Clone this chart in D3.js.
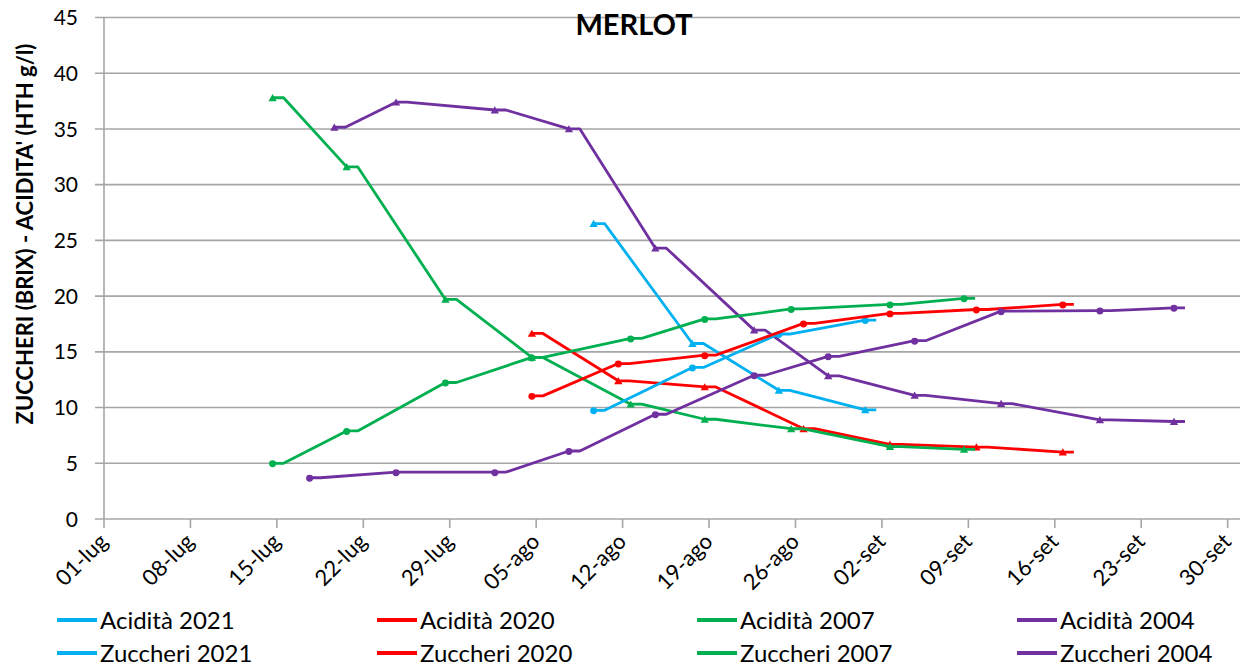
<!DOCTYPE html>
<html>
<head>
<meta charset="utf-8">
<script src="https://cdn.jsdelivr.net/npm/d3@7"></script>
<style>
	body { margin: 0; background: #fff; }
	text { font-family: Lato, 'Open Sans', sans-serif; fill: #000; }
</style>
</head>
<body>
<div id="viz"></div>
<script>
// sampling dates (all shown on the same season axis)
const DATES_2021 = ['2021-08-10', '2021-08-18', '2021-08-25', '2021-09-01'];
const DATES_2020 = ['2021-08-05', '2021-08-12', '2021-08-19', '2021-08-27', '2021-09-03', '2021-09-10', '2021-09-17'];
const DATES_2007 = ['2021-07-15', '2021-07-21', '2021-07-29', '2021-08-05', '2021-08-13', '2021-08-19', '2021-08-26', '2021-09-03', '2021-09-09'];
const DATES_2004_ACID = ['2021-07-20', '2021-07-25', '2021-08-02', '2021-08-08', '2021-08-15', '2021-08-23', '2021-08-29', '2021-09-05', '2021-09-12', '2021-09-20', '2021-09-26'];
const DATES_2004_SUGAR = ['2021-07-18', '2021-07-25', '2021-08-02', '2021-08-08', '2021-08-15', '2021-08-23', '2021-08-29', '2021-09-05', '2021-09-12', '2021-09-20', '2021-09-26'];

const ACID_2021 = [26.5, 15.75, 11.55, 9.8];
const SUGAR_2021 = [9.75, 13.6, 16.6, 17.85];
const ACID_2020 = [16.65, 12.4, 11.85, 8.1, 6.7, 6.45, 6.0];
const SUGAR_2020 = [11.05, 13.95, 14.7, 17.55, 18.45, 18.8, 19.25];
const ACID_2007 = [37.8, 31.6, 19.7, 14.5, 10.3, 8.95, 8.1, 6.5, 6.25];
const SUGAR_2007 = [5.0, 7.9, 12.25, 14.5, 16.2, 17.95, 18.85, 19.25, 19.8];
const ACID_2004 = [35.15, 37.4, 36.7, 35.0, 24.3, 16.95, 12.85, 11.1, 10.35, 8.9, 8.75];
const SUGAR_2004 = [3.7, 4.2, 4.2, 6.1, 9.4, 12.9, 14.6, 16.0, 18.65, 18.7, 18.95];

const Y_TICKS = [0, 5, 10, 15, 20, 25, 30, 35, 40, 45];
const MONTHS = { 6: 'lug', 7: 'ago', 8: 'set' };

const BLUE = '#00b0f0', RED = '#ff0000', GREEN = '#00b050', PURPLE = '#7030a0';

const series = [
	{ name: 'Acidità 2021', dates: DATES_2021, values: ACID_2021, color: BLUE, shape: 'tri' },
	{ name: 'Acidità 2020', dates: DATES_2020, values: ACID_2020, color: RED, shape: 'tri' },
	{ name: 'Acidità 2007', dates: DATES_2007, values: ACID_2007, color: GREEN, shape: 'tri' },
	{ name: 'Acidità 2004', dates: DATES_2004_ACID, values: ACID_2004, color: PURPLE, shape: 'tri' },
	{ name: 'Zuccheri 2021', dates: DATES_2021, values: SUGAR_2021, color: BLUE, shape: 'dot' },
	{ name: 'Zuccheri 2020', dates: DATES_2020, values: SUGAR_2020, color: RED, shape: 'dot' },
	{ name: 'Zuccheri 2007', dates: DATES_2007, values: SUGAR_2007, color: GREEN, shape: 'dot' },
	{ name: 'Zuccheri 2004', dates: DATES_2004_SUGAR, values: SUGAR_2004, color: PURPLE, shape: 'dot' }
];

const WIDTH = 1250, HEIGHT = 670;
const LEFT = 104, RIGHT = 1240, TOP = 17.5, BOTTOM = 519;
const parse = d3.utcParse('%Y-%m-%d');
const START = parse('2021-07-01'), END = parse('2021-10-01');

const svg = d3.select('#viz').append('svg')
	.attr('width', WIDTH)
	.attr('height', HEIGHT);

const xScale = d3.scaleUtc()
	.domain([START, END])
	.range([LEFT, RIGHT]);

const yScale = d3.scaleLinear()
	.domain([0, 45])
	.range([BOTTOM, TOP]);

// weekly ticks counted from 01-lug
const xTicks = d3.range(0, 92, 7).map((n) => d3.utcDay.offset(START, n));
const fmtTick = (d) => d3.utcFormat('%d')(d) + '-' + MONTHS[d.getUTCMonth()];

// gridlines
svg.append('g')
	.attr('class', 'grid')
	.selectAll('line')
	.data(Y_TICKS)
	.enter()
	.append('line')
	.attr('x1', LEFT - 9)
	.attr('x2', RIGHT)
	.attr('y1', (d) => yScale(d))
	.attr('y2', (d) => yScale(d))
	.attr('stroke', '#a6a6a6')
	.attr('stroke-width', 1.6);

// y axis
svg.append('line')
	.attr('x1', LEFT).attr('x2', LEFT)
	.attr('y1', TOP).attr('y2', BOTTOM)
	.attr('stroke', '#a6a6a6')
	.attr('stroke-width', 1.6);

svg.append('g')
	.selectAll('text')
	.data(Y_TICKS)
	.enter()
	.append('text')
	.attr('x', 78)
	.attr('y', (d) => yScale(d))
	.attr('dy', '0.36em')
	.attr('text-anchor', 'end')
	.style('font-size', '21px')
	.text((d) => d);

// x axis ticks
svg.append('g')
	.selectAll('line')
	.data(xTicks)
	.enter()
	.append('line')
	.attr('x1', (d) => xScale(d))
	.attr('x2', (d) => xScale(d))
	.attr('y1', BOTTOM)
	.attr('y2', BOTTOM + 9)
	.attr('stroke', '#a6a6a6')
	.attr('stroke-width', 1.6);

svg.append('g')
	.selectAll('text')
	.data(xTicks)
	.enter()
	.append('text')
	.attr('transform', (d) => 'translate(' + (xScale(d) + 5) + ',' + (BOTTOM + 24) + ') rotate(-45)')
	.attr('text-anchor', 'end')
	.style('font-size', '22px')
	.text(fmtTick);

// axis title + chart title
svg.append('text')
	.attr('transform', 'translate(33,' + 234 + ') rotate(-90)')
	.attr('text-anchor', 'middle')
	.style('font-size', '22px')
	.style('font-weight', 'bold')
	.text("ZUCCHERI (BRIX) - ACIDITA' (HTH g/l)");

svg.append('text')
	.attr('x', 634)
	.attr('y', 35)
	.attr('text-anchor', 'middle')
	.style('font-size', '29px')
	.style('font-weight', 'bold')
	.text('MERLOT');

// markers sit slightly left of the date, line has a short flat step after each one
const MARK_SHIFT = -4.3, STEP = 11;
const markX = (d) => xScale(parse(d)) + MARK_SHIFT;

const generateLine = d3.line()
	.x((p) => p[0])
	.y((p) => p[1]);

const stepPoints = (s) => {
	const pts = [];
	s.dates.forEach((d, i) => {
		const x = markX(d), y = yScale(s.values[i]);
		pts.push([x, y]);
		pts.push([x + STEP, y]);
	});
	return pts;
};

const triangle = d3.symbol().type(d3.symbolTriangle).size(30);
const circle = d3.symbol().type(d3.symbolCircle).size(38);

const seriesGroup = svg.append('g')
	.attr('class', 'series')
	.selectAll('g')
	.data(series)
	.enter()
	.append('g');

seriesGroup.append('path')
	.attr('fill', 'none')
	.attr('stroke', (s) => s.color)
	.attr('stroke-width', 2.8)
	.attr('stroke-linejoin', 'round')
	.attr('d', (s) => generateLine(stepPoints(s)));

seriesGroup.selectAll('.point')
	.data((s) => s.dates.map((d, i) => ({ d: d, v: s.values[i], s: s })))
	.enter()
	.append('path')
	.attr('class', 'point')
	.attr('transform', (p) => 'translate(' + markX(p.d) + ',' + (yScale(p.v) + (p.s.shape === 'tri' ? 1 : 0.5)) + ')')
	.attr('fill', (p) => p.s.color)
	.attr('d', (p) => p.s.shape === 'tri' ? triangle() : circle());

// legend
const legend = svg.append('g')
	.attr('class', 'legend')
	.selectAll('g')
	.data(series)
	.enter()
	.append('g')
	.attr('transform', (s, i) => 'translate(' + (57 + (i % 4) * 320) + ',' + (620 + Math.floor(i / 4) * 33) + ')');

legend.append('line')
	.attr('x1', 0).attr('x2', 40)
	.attr('stroke', (s) => s.color)
	.attr('stroke-width', 4);

legend.append('path')
	.attr('transform', 'translate(20,0)')
	.attr('fill', (s) => s.color)
	.attr('d', d3.symbol().type(d3.symbolCircle).size(14));

legend.append('text')
	.attr('x', 43)
	.attr('dy', '0.36em')
	.style('font-size', '24px')
	.text((s) => s.name);
</script>
</body>
</html>
